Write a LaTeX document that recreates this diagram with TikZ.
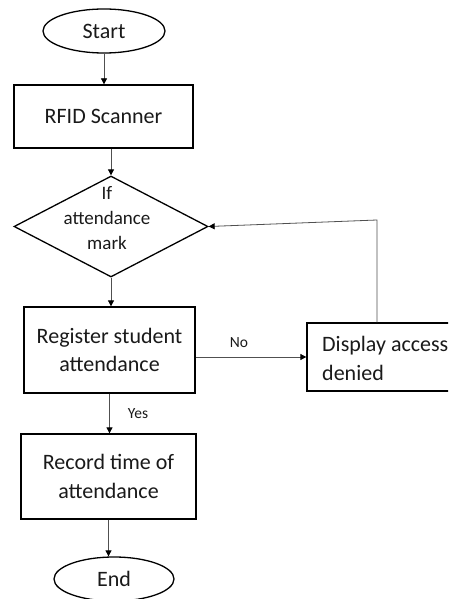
\documentclass[tikz,border=0pt]{standalone}
\usepackage{fontspec}
\setmainfont{Carlito}
\usetikzlibrary{shapes.geometric,arrows.meta}
\definecolor{txt}{HTML}{1A1A1A}
\definecolor{ln}{HTML}{505050}
\tikzset{
  box/.style={draw=black,line width=1.3pt,rectangle,inner sep=0pt,text=txt,align=center,font=\fontsize{22}{28.5}\selectfont},
  term/.style={draw=black,line width=1.3pt,ellipse,inner sep=0pt,text=txt,font=\fontsize{22}{28}\selectfont},
  dia/.style={draw=black,line width=1.3pt,diamond,inner sep=0pt},
  flow/.style={draw=ln,line width=0.8pt,-{Triangle[length=6pt,width=6pt,color=black]}},
  lbl/.style={text=txt,font=\fontsize{15.5}{18}\selectfont,inner sep=0pt}
}
\begin{document}
\begin{tikzpicture}[x=1pt,y=-1pt]
\useasboundingbox (0,0) rectangle (448,599);
\begin{scope}
\clip (0,0) rectangle (448,599);
\fill[white] (0,0) rectangle (448,599);
\node[term,minimum width=122pt,minimum height=44pt] (start) at (104,31) {Start};
\node[box,minimum width=179pt,minimum height=63pt] (rfid) at (103.5,116.5) {RFID Scanner};
\node[dia,minimum width=194pt,minimum height=101pt] (dec) at (111,226.5) {};
\node[text=txt,align=center,font=\fontsize{19}{25}\selectfont,inner sep=0pt] (dectext) at (107,218) {If\\attendance\\mark};
\node[box,minimum width=171pt,minimum height=86pt] (reg) at (109.5,350) {Register student\\attendance};
\node[box,minimum width=175pt,minimum height=85pt] (rec) at (108.5,476.5) {Record time of\\attendance};
\node[term,minimum width=120pt,minimum height=44pt] (end) at (114,579) {End};
\node[box,minimum width=400pt,minimum height=68pt] (disp) at (507,357) {};
\node[text=txt,align=left,anchor=west,inner sep=0pt,font=\fontsize{22}{29}\selectfont] (disptext) at (322,358) {Display access\\denied};
\coordinate (corner) at (377,220);
\draw[flow] (start.south) -- (start.south |- rfid.north);
\draw[flow] (rfid.south -| dec.north) -- (dec.north);
\draw[flow] (dec.south) -- (dec.south |- reg.north);
\draw[flow] (reg.south) -- (reg.south |- rec.north);
\draw[flow] (rec.south) -- (rec.south |- end.north);
\draw[flow] (reg.east |- disp.west) -- (disp.west);
\draw[flow] (corner |- disp.north) -- (corner) -- (dec.east);
\node[lbl] (no) at (239,343) {No};
\node[lbl] (yes) at (138,414) {Yes};
\end{scope}
\end{tikzpicture}
\end{document}
